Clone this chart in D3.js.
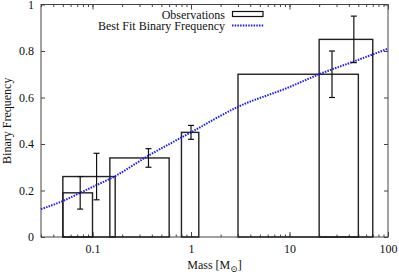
<!DOCTYPE html>
<html>
<head>
<meta charset="utf-8">
<script src="https://cdn.jsdelivr.net/npm/d3@7"></script>
<style>
  html, body { margin: 0; padding: 0; background: #fff; }
  svg text { font-family: "Liberation Serif", "DejaVu Serif", serif !important; }
</style>
</head>
<body>
<div id="chart"></div>
<script>
// observed bins (mass range in Msun) and binary fraction
const binLo   = [0.05, 0.05, 0.15, 0.8, 3, 20];
const binHi   = [0.1, 0.17, 0.6, 1.2, 50, 70];
const binFreq = [0.19, 0.26, 0.34, 0.45, 0.70, 0.85];
const errMass = [0.075, 0.11, 0.37, 1.0, 27, 45];
const errFreq = [0.07, 0.10, 0.04, 0.03, 0.10, 0.10];

// best fit curve
const fitMass = [0.03, 0.05, 0.075, 0.1, 0.17, 0.37, 1, 3, 10, 20, 45, 100];
const fitFreq = [0.12, 0.155, 0.19, 0.215, 0.262, 0.35, 0.45, 0.56, 0.645, 0.70, 0.755, 0.81];

const xTicks = [0.1, 1, 10, 100];
const yTicks = [0, 0.2, 0.4, 0.6, 0.8, 1];

const W = 399, H = 274;
const m = {left: 41, right: 11, top: 4.5, bottom: 37};

const svg = d3.select("#chart").append("svg")
  .attr("width", W).attr("height", H);

const x = d3.scaleLog().domain([0.03, 100]).range([m.left, W - m.right]);
const y = d3.scaleLinear().domain([0, 1]).range([H - m.bottom, m.top]);

const axisCol = "#444";

// minor log ticks
const minor = [];
for (let e = -2; e <= 1; e++) {
  for (let k = 1; k <= 9; k++) {
    const v = k * Math.pow(10, e);
    if (v >= 0.03 && v <= 100) minor.push(v);
  }
}

function styleAxis(g) {
  g.select(".domain").remove();
  g.selectAll("line").attr("stroke", axisCol);
  g.selectAll("text").attr("font-size", 12).attr("fill", "#111");
}

// x axis bottom & top
svg.append("g").attr("transform", `translate(0,${H - m.bottom})`)
  .call(d3.axisBottom(x).tickValues(minor).tickSize(-2.5).tickFormat(""))
  .call(styleAxis);
svg.append("g").attr("transform", `translate(0,${H - m.bottom})`)
  .call(d3.axisBottom(x).tickValues(xTicks).tickSize(-5).tickPadding(7).tickFormat(d3.format("~g")))
  .call(styleAxis);
svg.append("g").attr("transform", `translate(0,${m.top})`)
  .call(d3.axisTop(x).tickValues(minor).tickSize(-2.5).tickFormat(""))
  .call(styleAxis);
svg.append("g").attr("transform", `translate(0,${m.top})`)
  .call(d3.axisTop(x).tickValues(xTicks).tickSize(-5).tickFormat(""))
  .call(styleAxis);

// y axis left & right
svg.append("g").attr("transform", `translate(${m.left},0)`)
  .call(d3.axisLeft(y).tickValues(yTicks).tickSize(-4).tickPadding(7).tickFormat(d3.format("~g")))
  .call(styleAxis);
svg.append("g").attr("transform", `translate(${W - m.right},0)`)
  .call(d3.axisRight(y).tickValues(yTicks).tickSize(-4).tickFormat(""))
  .call(styleAxis);

// frame
svg.append("rect")
  .attr("x", m.left).attr("y", m.top)
  .attr("width", W - m.right - m.left).attr("height", H - m.bottom - m.top)
  .attr("fill", "none").attr("stroke", axisCol).attr("stroke-width", 1);

// bars
svg.append("g").selectAll("rect")
  .data(binFreq)
  .join("rect")
  .attr("x", (d, i) => x(binLo[i]))
  .attr("y", d => y(d))
  .attr("width", (d, i) => x(binHi[i]) - x(binLo[i]))
  .attr("height", d => y(0) - y(d))
  .attr("fill", "none").attr("stroke", "#222").attr("stroke-width", 1.4);

// best fit curve
const line = d3.line()
  .x((d, i) => x(fitMass[i]))
  .y(d => y(d))
  .curve(d3.curveMonotoneX);
svg.append("path")
  .datum(fitFreq)
  .attr("d", line)
  .attr("fill", "none").attr("stroke", "#1a1aff")
  .attr("stroke-width", 2).attr("stroke-dasharray", "1.5,1.2");

// error bars
const eb = svg.append("g").attr("stroke", "#111").attr("stroke-width", 1.2);
errMass.forEach((mv, i) => {
  const cx = x(mv);
  const y1 = y(binFreq[i] + errFreq[i]);
  const y2 = y(binFreq[i] - errFreq[i]);
  eb.append("line").attr("x1", cx).attr("x2", cx).attr("y1", y1).attr("y2", y2);
  eb.append("line").attr("x1", cx - 3).attr("x2", cx + 3).attr("y1", y1).attr("y2", y1);
  eb.append("line").attr("x1", cx - 3).attr("x2", cx + 3).attr("y1", y2).attr("y2", y2);
});

// legend
const lg = svg.append("g").attr("font-size", 12).attr("fill", "#111");
lg.append("text").attr("x", 225).attr("y", 18.5).attr("text-anchor", "end").text("Observations");
lg.append("rect").attr("x", 232.5).attr("y", 11.5).attr("width", 30.5).attr("height", 5)
  .attr("fill", "none").attr("stroke", "#111").attr("stroke-width", 1.2);
lg.append("text").attr("x", 225).attr("y", 30).attr("text-anchor", "end").text("Best Fit Binary Frequency");
lg.append("line").attr("x1", 232).attr("x2", 264).attr("y1", 25.5).attr("y2", 25.5)
  .attr("stroke", "#1a1aff").attr("stroke-width", 2).attr("stroke-dasharray", "1.5,1.2");

// axis titles
svg.append("text")
  .attr("transform", `translate(11,${(m.top + H - m.bottom) / 2}) rotate(-90)`)
  .attr("text-anchor", "middle").attr("font-size", 12).attr("fill", "#111")
  .text("Binary Frequency");

const xl = svg.append("text")
  .attr("x", (m.left + W - m.right) / 2).attr("y", 269)
  .attr("text-anchor", "middle").attr("font-size", 12).attr("fill", "#111");
xl.append("tspan").text("Mass [M");
xl.append("tspan").attr("dy", 3).attr("font-size", 9).text("\u2299");
xl.append("tspan").attr("dy", -3).text("]");
</script>
</body>
</html>
